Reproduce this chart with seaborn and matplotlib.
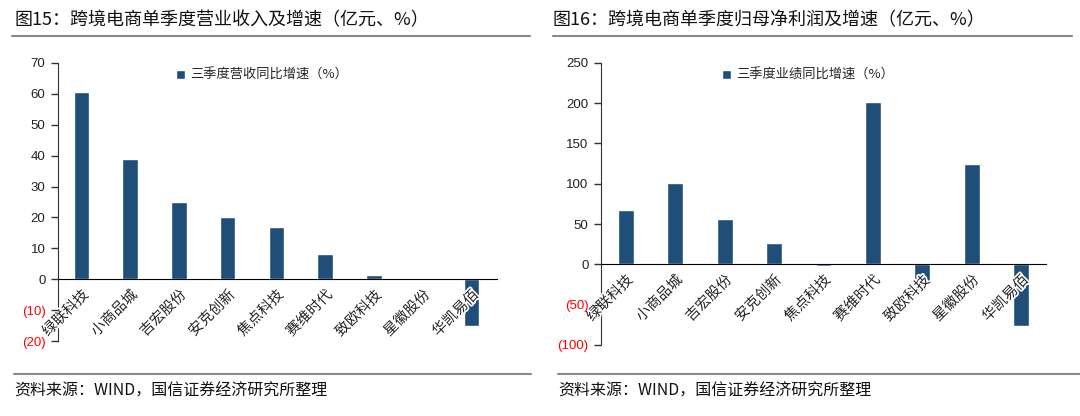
import matplotlib
matplotlib.use("Agg")
import matplotlib.pyplot as plt
import matplotlib.patheffects as pe
import seaborn as sns
from matplotlib.lines import Line2D
from matplotlib.ticker import FuncFormatter

sns.set_style("white")
plt.rcParams['font.family'] = ['Noto Sans CJK SC', 'DejaVu Sans']
plt.rcParams['axes.axisbelow'] = False

# data
companies = ['绿联科技', '小商品城', '吉宏股份', '安克创新', '焦点科技',
             '赛维时代', '致欧科技', '星徽股份', '华凯易佰']
revenue_growth = [60.5, 39, 25, 20, 17, 8.3, 1.5, 0.4, -15]
profit_growth = [67, 101, 56, 27, -2, 201, -24, 124, -77]

titles = ['图15：跨境电商单季度营业收入及增速（亿元、%）',
          '图16：跨境电商单季度归母净利润及增速（亿元、%）']
legend_labels = ['三季度营收同比增速（%）', '三季度业绩同比增速（%）']
source = '资料来源：WIND，国信证券经济研究所整理'

bar_color = '#1F4E79'


def num_fmt(v, pos):
    v = int(round(v))
    return f'({abs(v)})' if v < 0 else f'{v}'


def draw_panel(ax, values, label, ylim, step, xlim):
    sns.barplot(x=companies, y=values, color=bar_color, width=0.32,
                saturation=1, ax=ax, label=label)
    ax.set_axisbelow(False)
    ax.set_ylim(*ylim)
    ax.set_xlim(*xlim)
    ax.set_yticks(range(ylim[0], ylim[1] + 1, step))
    ax.yaxis.set_major_formatter(FuncFormatter(num_fmt))
    ax.spines['top'].set_visible(False)
    ax.spines['right'].set_visible(False)
    ax.spines['bottom'].set_position(('data', 0))
    ax.spines['bottom'].set_color('black')
    ax.spines['left'].set_color('#333333')
    ax.tick_params(axis='y', direction='out', length=5, width=1, color='#333333',
                   labelsize=9.5, pad=4, left=True)
    ax.tick_params(axis='x', length=0, labelsize=10.5, pad=6)
    for t in ax.get_xticklabels():
        t.set_rotation(45)
        t.set_ha('right')
        t.set_rotation_mode('anchor')
        t.set_color('#222222')
        t.set_path_effects([pe.withStroke(linewidth=2.5, foreground='white')])
    for t in ax.get_yticklabels():
        t.set_family(['Liberation Sans', 'DejaVu Sans'])
    ax.set_xlabel('')
    ax.set_ylabel('')
    ax.legend(loc='upper center', bbox_to_anchor=(0.465, 1.02), frameon=False,
              fontsize=9.5, handlelength=0.7, handleheight=0.7, handletextpad=0.4)


fig = plt.figure(figsize=(10.8, 4.16), dpi=100)
ax1 = fig.add_axes([0.0537, 0.180, 0.4063, 0.669])
ax2 = fig.add_axes([0.5565, 0.1707, 0.412, 0.6783])

draw_panel(ax1, revenue_growth, legend_labels[0], (-20, 70), 10, (-0.48, 8.52))
draw_panel(ax2, profit_growth, legend_labels[1], (-100, 250), 50, (-0.5, 8.5))

fig.canvas.draw()
for ax in (ax1, ax2):
    for t in ax.get_yticklabels():
        t.set_color('red' if t.get_text().startswith('(') else '#222222')

# titles, separator lines, source notes
fig.text(0.013, 0.952, titles[0], fontsize=13, va='center', color='#111111')
fig.text(0.512, 0.952, titles[1], fontsize=13, va='center', color='#111111')
for x0, x1 in [(0.011, 0.491), (0.512, 0.993)]:
    fig.add_artist(Line2D([x0, x1], [0.914, 0.914], color='#888888', lw=1.5))
for x0, x1 in [(0.013, 0.492), (0.517, 1.0)]:
    fig.add_artist(Line2D([x0, x1], [0.101, 0.101], color='#888888', lw=1.5))
fig.text(0.013, 0.06, source, fontsize=11.5, va='center', color='#111111')
fig.text(0.517, 0.06, source, fontsize=11.5, va='center', color='#111111')

fig.savefig('out.png', dpi=100)
